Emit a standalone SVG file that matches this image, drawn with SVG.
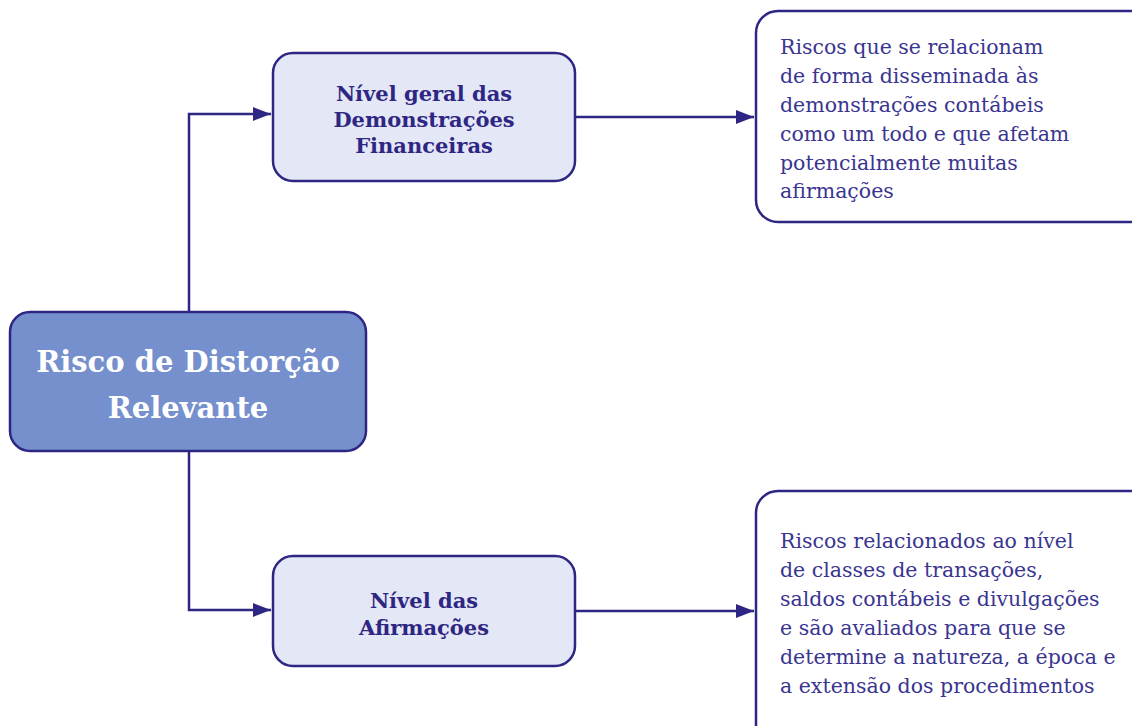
<svg xmlns="http://www.w3.org/2000/svg" width="1132" height="726" viewBox="0 0 1132 726">
<style>
.box{stroke:#2E2683;stroke-width:2.5}
.main{fill:#7590CC}
.mid{fill:#E4E7F6}
.info{fill:#FFFFFF}
.conn{fill:none;stroke:#2E2683;stroke-width:2.5}
.t-main{font-family:"DejaVu Serif",serif;font-weight:bold;font-size:29px;fill:#FFFFFF;text-anchor:middle}
.t-mid{font-family:"DejaVu Serif",serif;font-weight:bold;font-size:21px;fill:#2E2683;text-anchor:middle}
.t-info{font-family:"DejaVu Serif",serif;font-size:20.5px;fill:#3A3590}
</style>
<defs>
<marker id="arr" markerWidth="18" markerHeight="14" refX="18" refY="7" orient="auto" markerUnits="userSpaceOnUse">
<path d="M0,0 L18,7 L0,14 Z" fill="#2E2683"/>
</marker>
</defs>
<rect width="1132" height="726" fill="#FFFFFF"/>
<g id="connectors">
<path class="conn" d="M189,312 V114 H271" marker-end="url(#arr)"/>
<path class="conn" d="M189,451 V610 H271" marker-end="url(#arr)"/>
<path class="conn" d="M575,117 H754" marker-end="url(#arr)"/>
<path class="conn" d="M575,611 H754" marker-end="url(#arr)"/>
</g>
<g id="risco">
<rect class="box main" x="10" y="312" width="356" height="139" rx="20"/>
<text class="t-main" x="188" y="372">Risco de Distorção</text>
<text class="t-main" x="188" y="418">Relevante</text>
</g>
<g id="nivel-geral">
<rect class="box mid" x="273" y="53" width="302" height="128" rx="20"/>
<text class="t-mid" x="424" y="101">Nível geral das</text>
<text class="t-mid" x="424" y="127">Demonstrações</text>
<text class="t-mid" x="424" y="153">Financeiras</text>
</g>
<g id="nivel-afirmacoes">
<rect class="box mid" x="273" y="556" width="302" height="110" rx="20"/>
<text class="t-mid" x="424" y="608">Nível das</text>
<text class="t-mid" x="424" y="635">Afirmações</text>
</g>
<g id="info-geral">
<rect class="box info" x="756" y="11" width="400" height="211" rx="22"/>
<text class="t-info" x="780"><tspan x="780" y="54">Riscos que se relacionam</tspan><tspan x="780" y="83">de forma disseminada às</tspan><tspan x="780" y="112">demonstrações contábeis</tspan><tspan x="780" y="141">como um todo e que afetam</tspan><tspan x="780" y="170">potencialmente muitas</tspan><tspan x="780" y="198">afirmações</tspan></text>
</g>
<g id="info-afirmacoes">
<rect class="box info" x="756" y="491" width="400" height="260" rx="22"/>
<text class="t-info" x="780"><tspan x="780" y="548">Riscos relacionados ao nível</tspan><tspan x="780" y="577">de classes de transações,</tspan><tspan x="780" y="606">saldos contábeis e divulgações</tspan><tspan x="780" y="635">e são avaliados para que se</tspan><tspan x="780" y="664">determine a natureza, a época e</tspan><tspan x="780" y="693">a extensão dos procedimentos</tspan></text>
</g>
</svg>
